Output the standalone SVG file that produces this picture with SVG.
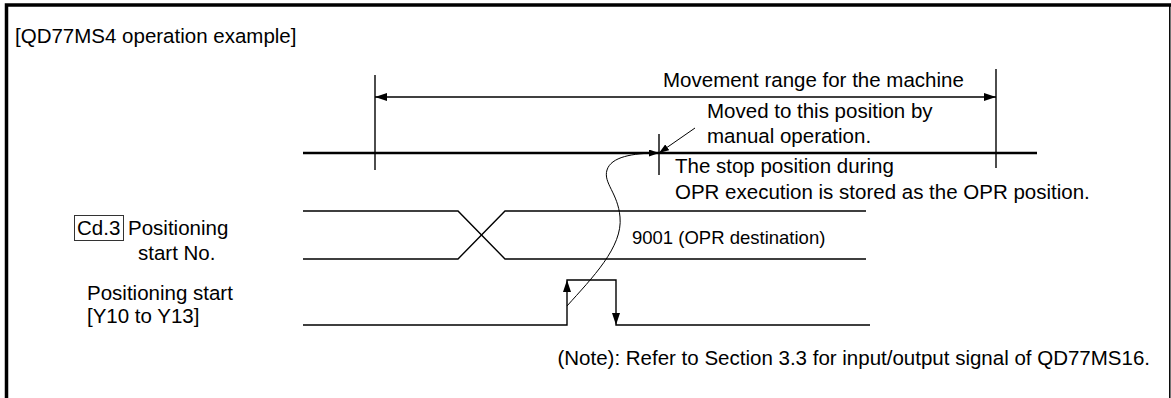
<svg xmlns="http://www.w3.org/2000/svg" width="1171" height="398" viewBox="0 0 1171 398">
<defs>
<style>
text{font-family:"Liberation Sans",Arial,sans-serif;fill:#000;font-size:20.5px}
.sm{font-size:18.5px}
.ln{stroke:#000;fill:none;stroke-width:1.4}
.thin{stroke:#000;fill:none;stroke-width:1}
.ax{stroke:#000;fill:none;stroke-width:2.4}
</style>
<marker id="ah" viewBox="0 0 12 8" refX="12" refY="4" markerWidth="12" markerHeight="8" markerUnits="userSpaceOnUse" orient="auto-start-reverse">
<path d="M0,0 L12,4 L0,8 Z" fill="#000"/>
</marker>
<marker id="ah2" viewBox="0 0 10 7" refX="10" refY="3.5" markerWidth="10" markerHeight="7" markerUnits="userSpaceOnUse" orient="auto">
<path d="M0,0 L10,3.5 L0,7 Z" fill="#000"/>
</marker>
</defs>
<rect width="1171" height="398" fill="#fff"/>
<g id="frame">
<path d="M6.5,398 V5 H1171" stroke="#000" stroke-width="3.5" fill="none"/>
<path d="M1169.8,5 V398" stroke="#000" stroke-width="1.5" fill="none"/>
</g>
<g id="title"><text x="15" y="43">[QD77MS4 operation example]</text></g>
<g id="connectors">
<path class="ln" d="M375,75 V170"/>
<path class="ln" d="M996,69 V168"/>
<path class="ln" d="M375,97 H996" marker-start="url(#ah)" marker-end="url(#ah)"/>
<path class="ax" d="M303,153 H1037"/>
<path class="ln" d="M659,134 V175"/>
<path class="thin" d="M695,128 L659,153" marker-end="url(#ah2)"/>
<path class="thin" d="M567,306 C592,278 623,247 620,217 C618,193 603,183 607,170 C611,157 632,153 659,153" marker-end="url(#ah2)"/>
</g>
<g id="axis-labels">
<text x="663" y="87">Movement range for the machine</text>
<text x="707" y="118">Moved to this position by</text>
<text x="707" y="143">manual operation.</text>
<text x="675" y="173">The stop position during</text>
<text x="675" y="199">OPR execution is stored as the OPR position.</text>
</g>
<g id="cd3-signal">
<rect x="74.5" y="215.5" width="49" height="25" fill="none" stroke="#333" stroke-width="1"/>
<text x="77" y="235">Cd.3</text>
<text x="128" y="235">Positioning</text>
<text x="138" y="260">start No.</text>
<path class="ln" d="M303,211 H458 L505,259 H866"/>
<path class="ln" d="M303,259 H458 L505,211 H866"/>
<text class="sm" x="632" y="244">9001 (OPR destination)</text>
</g>
<g id="start-signal">
<text x="87" y="300">Positioning start</text>
<text x="87" y="323">[Y10 to Y13]</text>
<path class="ln" d="M303,325 H567 V280 H616 V325 H870"/>
<path d="M567,280 L563,292 L571,292 Z" fill="#000"/>
<path d="M616,325 L612,313 L620,313 Z" fill="#000"/>
</g>
<g id="note"><text x="1150" y="365" text-anchor="end">(Note): Refer to Section 3.3 for input/output signal of QD77MS16.</text></g>
</svg>
